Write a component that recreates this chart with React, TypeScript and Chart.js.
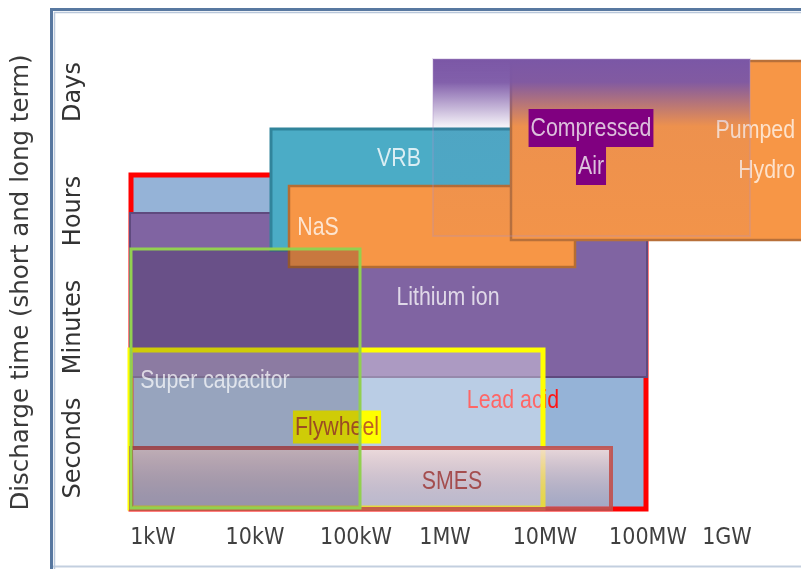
import React, { useEffect, useRef } from 'react';
import { Chart, registerables } from 'chart.js';

Chart.register(...registerables);

// Power axis: decades above 1 kW (log10(P / 1 kW)).
const powerTickValues = [0, 1.02, 2.03, 2.92, 3.92, 4.95, 5.74];
const powerTickLabels = ['1kW', '10kW', '100kW', '1MW', '10MW', '100MW', '1GW'];
// Discharge-time axis: relative (log-like) duration level.
const timeTickValues = [0.67, 1.88, 3.04, 4.23];
const timeTickLabels = ['Seconds', 'Minutes', 'Hours', 'Days'];

// Technologies in drawing order (back to front)
const technologies = ['Lead acid', 'Lithium ion', 'VRB', 'NaS', 'Pumped Hydro', 'Compressed Air', 'Flywheel', 'SMES', 'Super capacitor'];
const powerFrom = [-0.22, -0.23, 1.18, 1.36, 3.58, 2.8, -0.23, -0.22, -0.22];
const powerTo = [4.93, 4.94, 4.07, 4.22, 7.27, 5.97, 3.9, 4.58, 2.07];
const timeFrom = [0.06, 1.38, 2.65, 2.48, 2.75, 2.79, 0.07, 0.06, 0.07];
const timeTo = [3.4, 3.02, 3.86, 3.29, 4.54, 4.56, 1.65, 0.67, 2.66];

// Labels
const labelLines = [['Lead acid'], ['Lithium ion'], ['VRB'], ['NaS'], ['Pumped', 'Hydro'], ['Compressed', 'Air'], ['Flywheel'], ['SMES'], ['Super capacitor']];
const labelPower = [3.6, 2.95, 2.46, 1.65, 6.42, 4.38, 1.84, 2.99, 0.62];
const labelTime = [1.15, 2.18, 3.57, 2.88, 3.65, 3.68, 0.88, 0.34, 1.35];

type Stop = [number, string];
type BoxStyle = {
  fill: string | Stop[];
  stroke: string;
  lineWidth: number;
  text: string;
  align?: CanvasTextAlign;
  lineGap?: number;
  labelBg?: string;
  bgHeight?: number;
};

const styles: Record<string, BoxStyle> = {
  'Lead acid': { fill: '#95b3d7', stroke: '#ff0000', lineWidth: 5, text: 'rgba(255,20,20,1)' },
  'Lithium ion': { fill: '#8064a2', stroke: '#5f4a7e', lineWidth: 2, text: 'rgba(255,255,255,0.75)' },
  'VRB': { fill: '#4bacc6', stroke: '#31849b', lineWidth: 3, text: 'rgba(255,255,255,0.8)' },
  'NaS': { fill: '#f79646', stroke: '#b66d31', lineWidth: 2.5, text: 'rgba(255,255,255,0.75)' },
  'Pumped Hydro': { fill: '#f79646', stroke: '#b8703a', lineWidth: 2.5, text: 'rgba(255,255,255,0.72)', align: 'right', lineGap: 40 },
  'Compressed Air': {
    fill: [[0, 'rgba(123,87,166,1)'], [0.13, 'rgba(123,87,166,0.95)'], [0.38, 'rgba(123,87,166,0.08)'], [1, 'rgba(123,87,166,0.04)']],
    stroke: 'rgba(170,145,200,0.25)', lineWidth: 2, text: '#dcc0dc', lineGap: 38, labelBg: '#800080', bgHeight: 38,
  },
  'Flywheel': { fill: 'rgba(255,255,255,0.35)', stroke: '#ffff00', lineWidth: 5, text: '#bf5f24', labelBg: '#ffff00', bgHeight: 33 },
  'SMES': {
    fill: [[0, 'rgba(242,220,219,0.9)'], [0.3, 'rgba(230,200,202,0.7)'], [1, 'rgba(185,150,165,0.35)']],
    stroke: 'rgba(192,80,77,0.9)', lineWidth: 4, text: 'rgba(160,64,64,0.9)',
  },
  'Super capacitor': { fill: 'rgba(15,0,35,0.2)', stroke: '#92d050', lineWidth: 3, text: 'rgba(255,255,255,0.7)' },
};

const LABEL_FONT = '26px "Liberation Sans", Arial, sans-serif';
const NARROW = 0.82;

function narrowWidth(ctx: CanvasRenderingContext2D, text: string) {
  return ctx.measureText(text).width * NARROW;
}

const framePlugin = {
  id: 'frame',
  beforeDraw(chart: any) {
    const ctx: CanvasRenderingContext2D = chart.ctx;
    const w = chart.width;
    const h = chart.height;
    ctx.save();
    ctx.strokeStyle = '#c3cfdf';
    ctx.lineWidth = 2;
    ctx.beginPath();
    ctx.moveTo(51, h - 2.5);
    ctx.lineTo(w, h - 2.5);
    ctx.stroke();
    ctx.strokeStyle = '#b9c7da';
    ctx.lineWidth = 1.5;
    ctx.beginPath();
    ctx.moveTo(54.5, h);
    ctx.lineTo(54.5, 12.5);
    ctx.lineTo(w, 12.5);
    ctx.stroke();
    ctx.strokeStyle = '#5878a0';
    ctx.lineWidth = 3;
    ctx.beginPath();
    ctx.moveTo(51.5, h);
    ctx.lineTo(51.5, 9.5);
    ctx.lineTo(w, 9.5);
    ctx.stroke();
    ctx.restore();
  },
};

const boxesPlugin = {
  id: 'techBoxes',
  beforeDatasetsDraw(chart: any) {
    const ctx: CanvasRenderingContext2D = chart.ctx;
    const xs = chart.scales.x;
    const ys = chart.scales.y;
    ctx.save();
    technologies.forEach((name, i) => {
      const st = styles[name];
      const left = xs.getPixelForValue(powerFrom[i]);
      const right = xs.getPixelForValue(powerTo[i]);
      const top = ys.getPixelForValue(timeTo[i]);
      const bottom = ys.getPixelForValue(timeFrom[i]);
      if (typeof st.fill === 'string') {
        ctx.fillStyle = st.fill;
      } else {
        const g = ctx.createLinearGradient(0, top, 0, bottom);
        st.fill.forEach(([o, c]) => g.addColorStop(o, c));
        ctx.fillStyle = g;
      }
      ctx.fillRect(left, top, right - left, bottom - top);
      ctx.strokeStyle = st.stroke;
      ctx.lineWidth = st.lineWidth;
      ctx.strokeRect(left, top, right - left, bottom - top);

      // label
      const lines = labelLines[i];
      const px = xs.getPixelForValue(labelPower[i]);
      const py = ys.getPixelForValue(labelTime[i]);
      const gap = st.lineGap || 38;
      const align = st.align || 'center';
      ctx.font = LABEL_FONT;
      ctx.textBaseline = 'middle';
      lines.forEach((line, li) => {
        const ly = py + (li - (lines.length - 1) / 2) * gap;
        const tw = narrowWidth(ctx, line);
        if (st.labelBg) {
          const bh = st.bgHeight || gap;
          const bx = align === 'center' ? px - tw / 2 - 2 : align === 'right' ? px - tw - 2 : px - 2;
          ctx.fillStyle = st.labelBg;
          ctx.fillRect(bx, ly - bh / 2, tw + 4, bh);
        }
        ctx.save();
        ctx.translate(px, ly + 1);
        ctx.scale(NARROW, 1);
        ctx.textAlign = align;
        ctx.fillStyle = st.text;
        ctx.fillText(line, 0, 0);
        ctx.restore();
      });
    });
    ctx.restore();
  },
};

export default function App() {
  const canvasRef = useRef<HTMLCanvasElement | null>(null);

  useEffect(() => {
    if (!canvasRef.current) return;
    const chart = new Chart(canvasRef.current, {
      type: 'scatter',
      data: { datasets: [] },
      plugins: [framePlugin, boxesPlugin],
      options: {
        responsive: true,
        maintainAspectRatio: false,
        animation: false,
        layout: { padding: { top: 50, left: 0, right: 0, bottom: 0 } },
        plugins: { legend: { display: false }, tooltip: { enabled: false } },
        scales: {
          x: {
            type: 'linear',
            position: 'bottom',
            min: -0.23,
            max: 6.48,
            grid: { display: false, drawTicks: false },
            border: { display: false },
            afterBuildTicks: (s: any) => {
              s.ticks = powerTickValues.map((v) => ({ value: v }));
            },
            afterFit: (s: any) => {
              s.height = 54;
            },
            ticks: {
              autoSkip: false,
              minRotation: 0,
              maxRotation: 0,
              padding: 9,
              color: '#404040',
              font: { family: '"Liberation Sans Narrow", "DejaVu Sans Condensed", "Liberation Sans", sans-serif', size: 23 },
              callback: (v: any) => {
                const i = powerTickValues.indexOf(Number(v));
                return i >= 0 ? powerTickLabels[i] : '';
              },
            },
          },
          y: {
            type: 'linear',
            position: 'left',
            min: 0,
            max: 4.65,
            grid: { display: false, drawTicks: false },
            border: { display: false },
            afterBuildTicks: (s: any) => {
              s.ticks = timeTickValues.map((v) => ({ value: v }));
            },
            afterFit: (s: any) => {
              s.width = 130;
            },
            ticks: {
              autoSkip: false,
              minRotation: 90,
              maxRotation: 90,
              crossAlign: 'center',
              padding: 5.5,
              color: '#333333',
              font: { family: '"DejaVu Sans", sans-serif', size: 24 },
              callback: (v: any) => {
                const i = timeTickValues.indexOf(Number(v));
                return i >= 0 ? timeTickLabels[i] : '';
              },
            },
            title: {
              display: true,
              text: 'Discharge time (short and long term)',
              color: '#3a3a3a',
              font: { family: '"DejaVu Sans", sans-serif', size: 24.5 },
              padding: { top: 7, bottom: 0 },
            },
          },
        },
      },
    } as any);
    return () => chart.destroy();
  }, []);

  return (
    <div style={{ position: 'fixed', left: 0, top: 0, width: 801, height: 569, background: '#ffffff' }}>
      <canvas ref={canvasRef} />
    </div>
  );
}
